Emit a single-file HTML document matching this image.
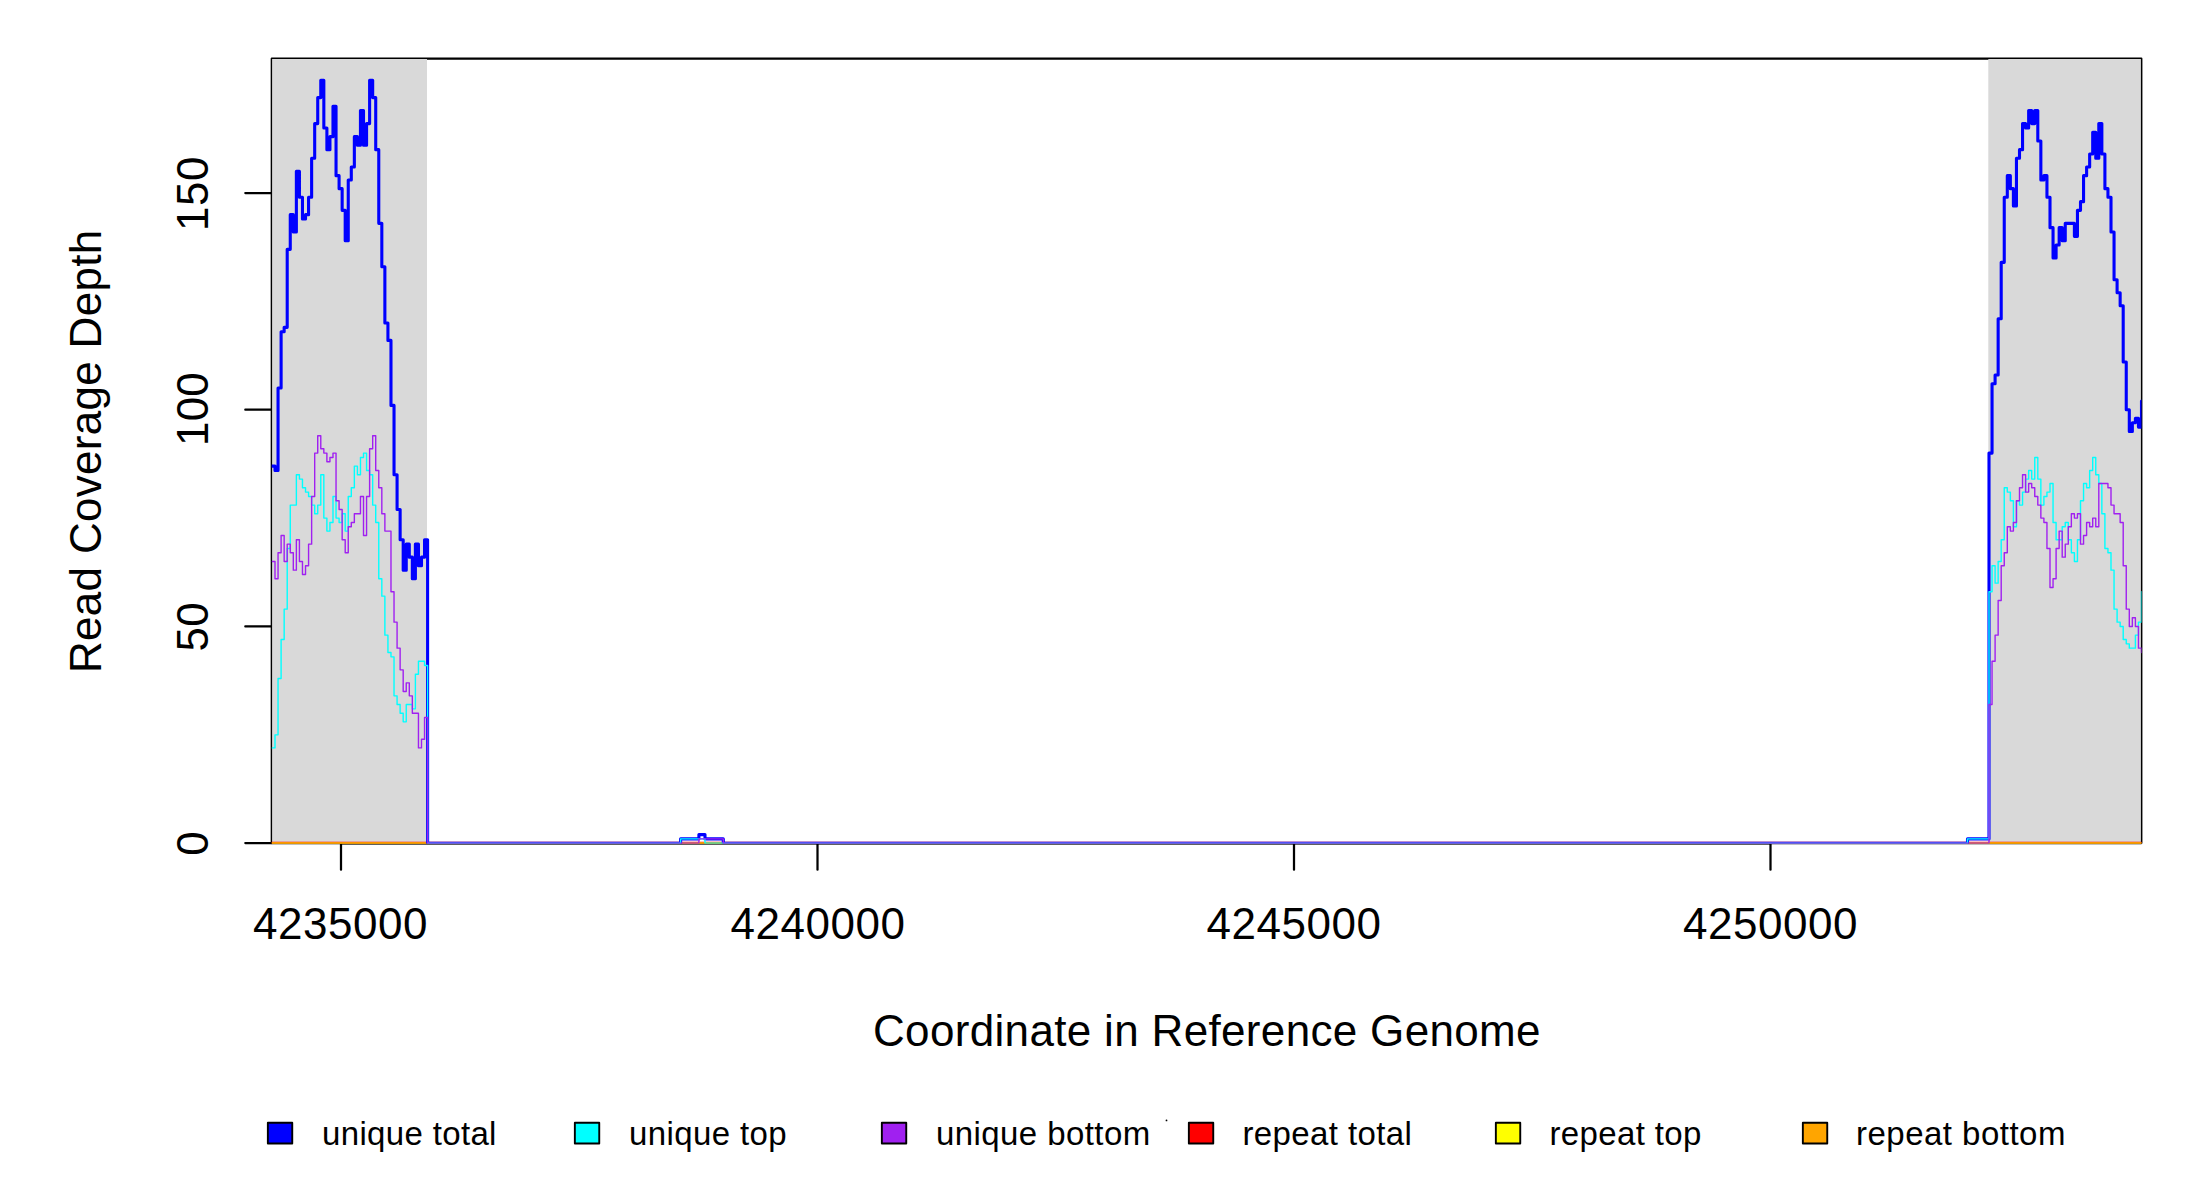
<!DOCTYPE html>
<html><head><meta charset="utf-8"><title>Read Coverage Depth</title>
<style>
html,body{margin:0;padding:0;background:#fff;}
body{width:2200px;height:1200px;overflow:hidden;}
svg{display:block;}
text{font-family:"Liberation Sans",sans-serif;fill:#000;}
</style></head><body>
<svg width="2200" height="1200" viewBox="0 0 2200 1200">
<rect x="0" y="0" width="2200" height="1200" fill="#fff"/>
<g fill="none" stroke="#000" stroke-width="2.25" stroke-linecap="round" stroke-linejoin="round">
<rect x="271.8" y="58.5" width="1869.5" height="784.6"/>
<path d="M341.0 843.35H1770.5"/>
<path d="M271.7 843.1H245.3"/>
<path d="M271.7 626.4H245.3"/>
<path d="M271.7 409.7H245.3"/>
<path d="M271.7 193.0H245.3"/>
<path d="M341.0 843.1V869.7"/>
<path d="M817.5 843.1V869.7"/>
<path d="M1294.0 843.1V869.7"/>
<path d="M1770.5 843.1V869.7"/>
</g>
<rect x="272.1" y="59.0" width="154.9" height="784.2" fill="#d9d9d9"/>
<rect x="1988.3" y="59.0" width="152.6" height="784.2" fill="#d9d9d9"/>
<defs><clipPath id="pc"><rect x="271.7" y="58.5" width="1869.8" height="784.95"/></clipPath></defs>
<g clip-path="url(#pc)" fill="none" stroke-linejoin="round" stroke-linecap="round">
<path d="M271.95 843.25H2141.5" stroke="#ff0000" stroke-width="3.1"/>
<path d="M271.95 843.25H2141.5" stroke="#ffff00" stroke-width="1.4"/>
<path d="M271.95 843.25H2141.5" stroke="#ffa500" stroke-width="1.4"/>
<path d="M271.95 466.1H275.0V470.43H278.05V388.06H281.11V331.71H284.16V327.37H287.21V249.34H290.26V214.66H293.31V232.0H296.37V171.31H299.42V197.32H302.47V219.0H305.52V214.66H308.57V197.32H311.63V158.3H314.68V123.62H317.73V97.61H320.78V80.27H323.83V127.96H326.89V149.63H329.94V136.63H332.99V106.28H336.04V175.64H339.09V188.65H342.15V210.33H345.2V240.67H348.25V179.98H351.3V166.97H354.35V136.63H357.41V145.3H360.46V110.62H363.51V145.3H366.56V123.62H369.61V80.27H372.67V97.61H375.72V149.63H378.77V223.33H381.82V266.68H384.87V323.04H387.93V340.38H390.98V405.4H394.03V474.77H397.08V509.45H400.13V539.79H403.19V570.14H406.24V544.13H409.29V557.13H412.34V578.81H415.39V544.13H418.45V565.8H421.5V557.13H424.55V539.79H427.6V843.25H680.6V838.91H698.9V834.58H705.0V838.91H723.3V843.25H1967.5V838.91H1989.0V453.09H1992.05V383.73H1995.1V375.06H1998.15V318.7H2001.2V262.35H2004.25V197.32H2007.3V175.64H2010.35V188.65H2013.4V205.99H2016.45V158.3H2019.5V149.63H2022.55V123.62H2025.6V127.96H2028.65V110.62H2031.7V123.62H2034.75V110.62H2037.8V140.96H2040.85V179.98H2043.9V175.64H2046.95V197.32H2050.0V227.67H2053.05V258.01H2056.1V245.01H2059.15V227.67H2062.2V240.67H2065.25V223.33H2068.3V223.33H2071.35V223.33H2074.4V236.34H2077.45V210.33H2080.5V201.66H2083.55V175.64H2086.6V166.97H2089.65V153.97H2092.7V132.29H2095.75V158.3H2098.8V123.62H2101.85V153.97H2104.9V188.65H2107.95V197.32H2111.0V232.0H2114.05V279.69H2117.1V292.69H2120.15V305.7H2123.2V362.05H2126.25V409.74H2129.3V431.42H2132.35V422.75H2135.4V418.41H2138.45V427.08H2141.5V401.07" stroke="#0000ff" stroke-width="3.1"/>
<path d="M271.95 747.88H275.0V734.87H278.05V678.52H281.11V639.5H284.16V609.15H287.21V548.46H290.26V505.11H293.31V505.11H296.37V474.77H299.42V479.1H302.47V487.77H305.52V492.11H308.57V496.44H311.63V505.11H314.68V513.78H317.73V505.11H320.78V474.77H323.83V518.12H326.89V531.12H329.94V522.45H332.99V496.44H336.04V518.12H339.09V522.45H342.15V513.78H345.2V531.12H348.25V496.44H351.3V487.77H354.35V466.1H357.41V474.77H360.46V457.43H363.51V453.09H366.56V470.43H369.61V474.77H372.67V505.11H375.72V522.45H378.77V578.81H381.82V596.15H384.87V635.17H387.93V652.51H390.98V656.84H394.03V695.86H397.08V704.53H400.13V713.2H403.19V721.87H406.24V704.53H409.29V704.53H412.34V708.86H415.39V674.18H418.45V661.18H421.5V661.18H424.55V665.51H427.6V843.25H680.6V838.91H698.9V838.91H705.0V843.25H723.3V843.25H1967.5V838.91H1989.0V591.81H1992.05V565.8H1995.1V583.14H1998.15V561.47H2001.2V539.79H2004.25V487.77H2007.3V492.11H2010.35V500.78H2013.4V526.79H2016.45V500.78H2019.5V505.11H2022.55V492.11H2025.6V479.1H2028.65V470.43H2031.7V479.1H2034.75V457.43H2037.8V479.1H2040.85V505.11H2043.9V496.44H2046.95V492.11H2050.0V483.44H2053.05V522.45H2056.1V539.79H2059.15V539.79H2062.2V526.79H2065.25V522.45H2068.3V539.79H2071.35V552.8H2074.4V561.47H2077.45V539.79H2080.5V500.78H2083.55V483.44H2086.6V487.77H2089.65V470.43H2092.7V457.43H2095.75V474.77H2098.8V483.44H2101.85V513.78H2104.9V548.46H2107.95V552.8H2111.0V570.14H2114.05V609.15H2117.1V622.16H2120.15V626.5H2123.2V639.5H2126.25V643.84H2129.3V648.17H2132.35V648.17H2135.4V635.17H2138.45V622.16H2141.5V591.81" stroke="#00ffff" stroke-width="1.4"/>
<path d="M271.95 561.47H275.0V578.81H278.05V552.8H281.11V535.46H284.16V561.47H287.21V544.13H290.26V552.8H293.31V570.14H296.37V539.79H299.42V561.47H302.47V574.47H305.52V565.8H308.57V544.13H311.63V496.44H314.68V453.09H317.73V435.75H320.78V448.76H323.83V453.09H326.89V461.76H329.94V457.43H332.99V453.09H336.04V500.78H339.09V509.45H342.15V539.79H345.2V552.8H348.25V526.79H351.3V522.45H354.35V513.78H357.41V513.78H360.46V496.44H363.51V535.46H366.56V496.44H369.61V448.76H372.67V435.75H375.72V470.43H378.77V487.77H381.82V513.78H384.87V531.12H387.93V531.12H390.98V591.81H394.03V622.16H397.08V648.17H400.13V669.85H403.19V691.52H406.24V682.85H409.29V695.86H412.34V713.2H415.39V713.2H418.45V747.88H421.5V739.21H424.55V717.53H427.6V843.25H680.6V843.25H698.9V838.91H705.0V838.91H723.3V843.25H1967.5V843.25H1989.0V704.53H1992.05V661.18H1995.1V635.17H1998.15V600.48H2001.2V565.8H2004.25V552.8H2007.3V526.79H2010.35V531.12H2013.4V522.45H2016.45V500.78H2019.5V487.77H2022.55V474.77H2025.6V492.11H2028.65V483.44H2031.7V487.77H2034.75V496.44H2037.8V505.11H2040.85V518.12H2043.9V522.45H2046.95V548.46H2050.0V587.48H2053.05V578.81H2056.1V548.46H2059.15V531.12H2062.2V557.13H2065.25V544.13H2068.3V526.79H2071.35V513.78H2074.4V518.12H2077.45V513.78H2080.5V544.13H2083.55V535.46H2086.6V522.45H2089.65V526.79H2092.7V518.12H2095.75V526.79H2098.8V483.44H2101.85V483.44H2104.9V483.44H2107.95V487.77H2111.0V505.11H2114.05V513.78H2117.1V513.78H2120.15V522.45H2123.2V565.8H2126.25V609.15H2129.3V626.5H2132.35V617.82H2135.4V626.5H2138.45V648.17H2141.5V652.51" stroke="#a020f0" stroke-width="1.4"/>
</g>
<text id="t1" font-size="44" letter-spacing="0.533" x="253.00" y="939.3">4235000</text>
<text id="t2" font-size="44" letter-spacing="0.533" x="730.50" y="939.3">4240000</text>
<text id="t3" font-size="44" letter-spacing="0.533" x="1206.50" y="939.3">4245000</text>
<text id="t4" font-size="44" letter-spacing="0.533" x="1683.00" y="939.3">4250000</text>
<text id="xl" font-size="44" letter-spacing="0.331" x="873.00" y="1045.9">Coordinate in Reference Genome</text>
<text id="y0" font-size="44" transform="translate(208.1 855.70) rotate(-90)">0</text>
<text id="y1" font-size="44" letter-spacing="0.200" transform="translate(208.1 651.50) rotate(-90)">50</text>
<text id="y2" font-size="44" letter-spacing="0.200" transform="translate(208.1 446.00) rotate(-90)">100</text>
<text id="y3" font-size="44" letter-spacing="0.500" transform="translate(208.1 231.00) rotate(-90)">150</text>
<text id="yl" font-size="44" letter-spacing="0.300" transform="translate(100.9 673.00) rotate(-90)">Read Coverage Depth</text>
<text id="l1" font-size="33" letter-spacing="0.345" x="322.00" y="1144.7">unique total</text>
<text id="l2" font-size="33" letter-spacing="0.378" x="629.00" y="1144.7">unique top</text>
<text id="l3" font-size="33" letter-spacing="0.417" x="936.00" y="1144.7">unique bottom</text>
<text id="l4" font-size="33" letter-spacing="0.382" x="1242.50" y="1144.7">repeat total</text>
<text id="l5" font-size="33" letter-spacing="0.356" x="1549.50" y="1144.7">repeat top</text>
<text id="l6" font-size="33" letter-spacing="0.483" x="1856.00" y="1144.7">repeat bottom</text>
<rect x="267.85" y="1122.7" width="24.4" height="20.8" fill="#0000ff" stroke="#000" stroke-width="1.9" stroke-linejoin="round"/>
<rect x="574.85" y="1122.7" width="24.4" height="20.8" fill="#00ffff" stroke="#000" stroke-width="1.9" stroke-linejoin="round"/>
<rect x="881.85" y="1122.7" width="24.4" height="20.8" fill="#a020f0" stroke="#000" stroke-width="1.9" stroke-linejoin="round"/>
<rect x="1188.85" y="1122.7" width="24.4" height="20.8" fill="#ff0000" stroke="#000" stroke-width="1.9" stroke-linejoin="round"/>
<rect x="1495.85" y="1122.7" width="24.4" height="20.8" fill="#ffff00" stroke="#000" stroke-width="1.9" stroke-linejoin="round"/>
<rect x="1802.85" y="1122.7" width="24.4" height="20.8" fill="#ffa500" stroke="#000" stroke-width="1.9" stroke-linejoin="round"/>
<circle cx="1166.5" cy="1120.4" r="0.9" fill="#000"/>
</svg>
</body></html>
